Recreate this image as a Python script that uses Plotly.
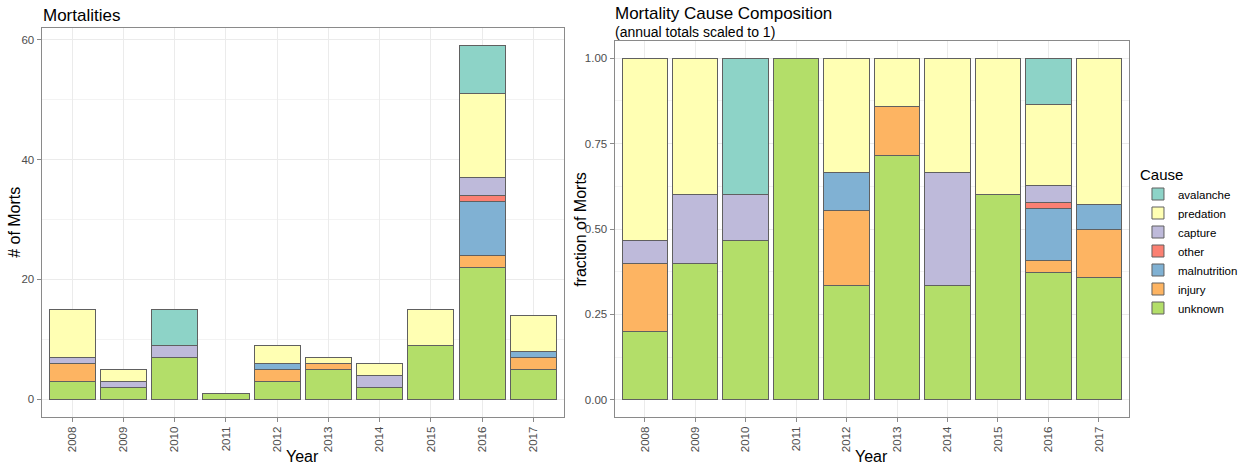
import plotly.graph_objects as go

W, H = 1243, 469

years = ["2008", "2009", "2010", "2011", "2012", "2013", "2014", "2015", "2016", "2017"]
# stacking order, bottom to top
causes = ["unknown", "injury", "malnutrition", "other", "capture", "predation", "avalanche"]
colors = {
    "avalanche": "#8DD3C7",
    "predation": "#FFFFB3",
    "capture": "#BEBADA",
    "other": "#FB8072",
    "malnutrition": "#80B1D3",
    "injury": "#FDB462",
    "unknown": "#B3DE69",
}
unknown      = [3, 2, 7, 1, 3, 5, 2, 9, 22, 5]
injury       = [3, 0, 0, 0, 2, 1, 0, 0, 2, 2]
malnutrition = [0, 0, 0, 0, 1, 0, 0, 0, 9, 1]
other        = [0, 0, 0, 0, 0, 0, 0, 0, 1, 0]
capture      = [1, 1, 2, 0, 0, 0, 2, 0, 3, 0]
predation    = [8, 2, 0, 0, 3, 1, 2, 6, 14, 6]
avalanche    = [0, 0, 6, 0, 0, 0, 0, 0, 8, 0]
counts = {
    "unknown": unknown, "injury": injury, "malnutrition": malnutrition,
    "other": other, "capture": capture, "predation": predation, "avalanche": avalanche,
}
totals = [sum(counts[c][i] for c in causes) for i in range(len(years))]

def px_x(p):
    return p / W

def px_y(p):
    return 1 - p / H

FONT = "Liberation Sans, Arial, sans-serif"
TICK_COLOR = "#4D4D4D"
GRID = "#EBEBEB"
BORDER = "#8A8A8A"
OUTLINE = "#606060"

fig = go.Figure()
for c in causes:
    vals = [v if v else None for v in counts[c]]
    fracs = [(v / t) if v else None for v, t in zip(counts[c], totals)]
    fig.add_trace(go.Bar(
        x=years, y=vals, name=c, legendgroup=c,
        marker=dict(color=colors[c], line=dict(color=OUTLINE, width=1)),
        xaxis="x", yaxis="y", showlegend=True,
    ))
    fig.add_trace(go.Bar(
        x=years, y=fracs, name=c, legendgroup=c,
        marker=dict(color=colors[c], line=dict(color=OUTLINE, width=1)),
        xaxis="x2", yaxis="y2", showlegend=False,
    ))

xcommon = dict(
    type="category", categoryorder="array", categoryarray=years,
    range=[-0.6, 9.6], showgrid=True, gridcolor=GRID, gridwidth=1,
    showline=True, mirror=True, linecolor=BORDER, linewidth=1,
    ticks="outside", ticklen=4, tickcolor=BORDER, tickangle=-90,
    tickfont=dict(family=FONT, size=11.5, color=TICK_COLOR), zeroline=False,
)
ycommon = dict(
    showgrid=True, gridcolor=GRID, gridwidth=1,
    showline=True, mirror=True, linecolor=BORDER, linewidth=1,
    ticks="outside", ticklen=4, tickcolor=BORDER,
    tickfont=dict(family=FONT, size=11.5, color=TICK_COLOR), zeroline=False,
)

fig.update_layout(
    width=W, height=H,
    margin=dict(l=0, r=0, t=0, b=0),
    paper_bgcolor="white", plot_bgcolor="white",
    barmode="stack", bargap=0.1,
    font=dict(family=FONT, color="black"),
    xaxis=dict(domain=[px_x(42), px_x(570)], anchor="y", **xcommon),
    yaxis=dict(domain=[px_y(417), px_y(28)], anchor="x", range=[-2.95, 61.95],
               tickvals=[0, 20, 40, 60], ticktext=["0", "20", "40", "60"],
               minor=dict(tickvals=[10, 30, 50], showgrid=True, gridcolor="#F3F3F3", ticks=""),
               **ycommon),
    xaxis2=dict(domain=[px_x(621), px_x(1141)], anchor="y2", **xcommon),
    yaxis2=dict(domain=[px_y(417), px_y(41)], anchor="x2", range=[-0.05, 1.05],
                tickvals=[0, 0.25, 0.5, 0.75, 1.0],
                ticktext=["0.00", "0.25", "0.50", "0.75", "1.00"],
                minor=dict(tickvals=[0.125, 0.375, 0.625, 0.875], showgrid=True,
                           gridcolor="#F3F3F3", ticks=""),
                **ycommon),
    legend=dict(
        x=px_x(1150), y=px_y(160), xanchor="left", yanchor="top",
        traceorder="reversed",
        title=dict(text="Cause", font=dict(family=FONT, size=15, color="black")),
        font=dict(family=FONT, size=11.5, color="black"),
        bgcolor="rgba(0,0,0,0)", itemwidth=30,
    ),
    showlegend=True,
)

ann = [
    dict(text="Mortalities", x=px_x(41), y=px_y(15), xanchor="left", yanchor="middle",
         font=dict(size=17)),
    dict(text="Mortality Cause Composition", x=px_x(619), y=px_y(13), xanchor="left",
         yanchor="middle", font=dict(size=17)),
    dict(text="(annual totals scaled to 1)", x=px_x(619), y=px_y(32), xanchor="left",
         yanchor="middle", font=dict(size=14)),
    dict(text="# of Morts", x=px_x(15), y=px_y(222), textangle=-90, xanchor="center",
         yanchor="middle", font=dict(size=16)),
    dict(text="fraction of Morts", x=px_x(586), y=px_y(229), textangle=-90, xanchor="center",
         yanchor="middle", font=dict(size=16)),
    dict(text="Year", x=px_x(306), y=px_y(456), xanchor="center", yanchor="middle",
         font=dict(size=16)),
    dict(text="Year", x=px_x(881), y=px_y(456), xanchor="center", yanchor="middle",
         font=dict(size=16)),
]
for a in ann:
    a.update(xref="paper", yref="paper", showarrow=False)
    a["font"] = dict(family=FONT, color="black", **a["font"])
fig.update_layout(annotations=ann)

fig.write_html("out.html")
